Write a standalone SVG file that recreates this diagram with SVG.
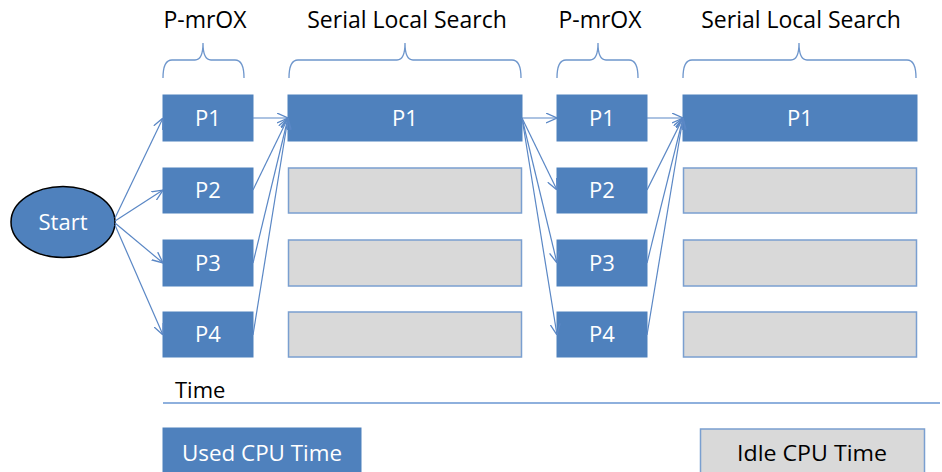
<svg xmlns="http://www.w3.org/2000/svg" width="942" height="472" viewBox="0 0 942 472">
<style>
.used{fill:#4F81BD;stroke:#4F81BD;stroke-width:1}
.idle{fill:#D9D9D9;stroke:#7A9FD0;stroke-width:1.5}
.wt{font-family:"Open Sans","Liberation Sans",sans-serif;font-size:22px;fill:#FFFFFF;text-anchor:middle}
.bt{font-family:"Open Sans","Liberation Sans",sans-serif;font-size:22px;fill:#000000;text-anchor:middle}
.hd{font-size:23px}
.conn line{stroke:#5A87C5;stroke-width:1.2;fill:none;marker-end:url(#arr)}
.brace{fill:none;stroke:#6E96CC;stroke-width:1.3}
</style>
<defs>
<marker id="arr" viewBox="0 0 10 10" refX="10" refY="5" markerWidth="11" markerHeight="11" markerUnits="userSpaceOnUse" orient="auto">
<path d="M0,0.5 L10,5 L0,9.5" fill="none" stroke="#5A87C5" stroke-width="1.2"/>
</marker>
</defs>
<rect width="942" height="472" fill="#FFFFFF"/>

<g id="headers">
<text class="bt hd" x="205" y="28">P-mrOX</text>
<text class="bt hd" x="407" y="28">Serial Local Search</text>
<text class="bt hd" x="600" y="28">P-mrOX</text>
<text class="bt hd" x="801" y="28">Serial Local Search</text>
<path class="brace" d="M163,78 Q163,60 172,60 H195 Q203,60 203,43 Q203,60 211,60 H235 Q244,60 244,78"/>
<path class="brace" d="M289,78 Q289,60 298,60 H397 Q405,60 405,43 Q405,60 413,60 H512 Q521,60 521,78"/>
<path class="brace" d="M557,78 Q557,60 566,60 H590 Q598,60 598,43 Q598,60 606,60 H629 Q638,60 638,78"/>
<path class="brace" d="M683,78 Q683,60 692,60 H791 Q799,60 799,43 Q799,60 807,60 H907 Q916,60 916,78"/>
</g>

<g id="start">
<ellipse cx="63" cy="222" rx="52" ry="35.5" fill="#4F81BD" stroke="#000000" stroke-width="1.5"/>
<text class="wt" x="63" y="230">Start</text>
</g>

<g id="col1-p1"><rect class="used" x="163" y="95" width="90" height="46"/><text class="wt" x="208" y="126">P1</text></g>
<g id="col1-p2"><rect class="used" x="163" y="168" width="90" height="45"/><text class="wt" x="208" y="198">P2</text></g>
<g id="col1-p3"><rect class="used" x="163" y="240" width="90" height="46"/><text class="wt" x="208" y="271">P3</text></g>
<g id="col1-p4"><rect class="used" x="163" y="312" width="90" height="45"/><text class="wt" x="208" y="342">P4</text></g>

<g id="col2-p1"><rect class="used" x="288" y="95" width="234" height="46"/><text class="wt" x="405" y="126">P1</text></g>
<g id="col2-idle2"><rect class="idle" x="288.5" y="168" width="233" height="45"/></g>
<g id="col2-idle3"><rect class="idle" x="288.5" y="240" width="233" height="46"/></g>
<g id="col2-idle4"><rect class="idle" x="288.5" y="312" width="233" height="45"/></g>

<g id="col3-p1"><rect class="used" x="557" y="95" width="90" height="46"/><text class="wt" x="602" y="126">P1</text></g>
<g id="col3-p2"><rect class="used" x="557" y="168" width="90" height="45"/><text class="wt" x="602" y="198">P2</text></g>
<g id="col3-p3"><rect class="used" x="557" y="240" width="90" height="46"/><text class="wt" x="602" y="271">P3</text></g>
<g id="col3-p4"><rect class="used" x="557" y="312" width="90" height="45"/><text class="wt" x="602" y="342">P4</text></g>

<g id="col4-p1"><rect class="used" x="683" y="95" width="234" height="46"/><text class="wt" x="800" y="126">P1</text></g>
<g id="col4-idle2"><rect class="idle" x="683.5" y="168" width="233" height="45"/></g>
<g id="col4-idle3"><rect class="idle" x="683.5" y="240" width="233" height="46"/></g>
<g id="col4-idle4"><rect class="idle" x="683.5" y="312" width="233" height="45"/></g>

<g id="connectors" class="conn">
<line x1="115" y1="218" x2="163" y2="118"/>
<line x1="115" y1="221" x2="163" y2="190"/>
<line x1="115" y1="223" x2="163" y2="263"/>
<line x1="115" y1="225" x2="163" y2="335"/>
<line x1="253" y1="118" x2="288" y2="118"/>
<line x1="253" y1="190" x2="288" y2="118"/>
<line x1="253" y1="263" x2="288" y2="118"/>
<line x1="253" y1="335" x2="288" y2="118"/>
<line x1="522" y1="118" x2="557" y2="118"/>
<line x1="522" y1="118" x2="557" y2="190"/>
<line x1="522" y1="118" x2="557" y2="263"/>
<line x1="522" y1="118" x2="557" y2="335"/>
<line x1="647" y1="118" x2="683" y2="118"/>
<line x1="647" y1="190" x2="683" y2="118"/>
<line x1="647" y1="263" x2="683" y2="118"/>
<line x1="647" y1="335" x2="683" y2="118"/>
</g>

<g id="timeline">
<line x1="163" y1="403" x2="940" y2="403" stroke="#8EB0DD" stroke-width="1.8"/>
<text x="175" y="398" font-family="'Open Sans','Liberation Sans',sans-serif" font-size="22" fill="#000000">Time</text>
</g>

<g id="legend-used">
<rect class="used" x="163" y="428" width="198" height="50"/>
<text class="wt" x="262" y="461" textLength="160" lengthAdjust="spacingAndGlyphs">Used CPU Time</text>
</g>
<g id="legend-idle">
<rect class="idle" x="700.5" y="429" width="224" height="50"/>
<text class="bt" x="812" y="461" textLength="150" lengthAdjust="spacingAndGlyphs">Idle CPU Time</text>
</g>
</svg>
